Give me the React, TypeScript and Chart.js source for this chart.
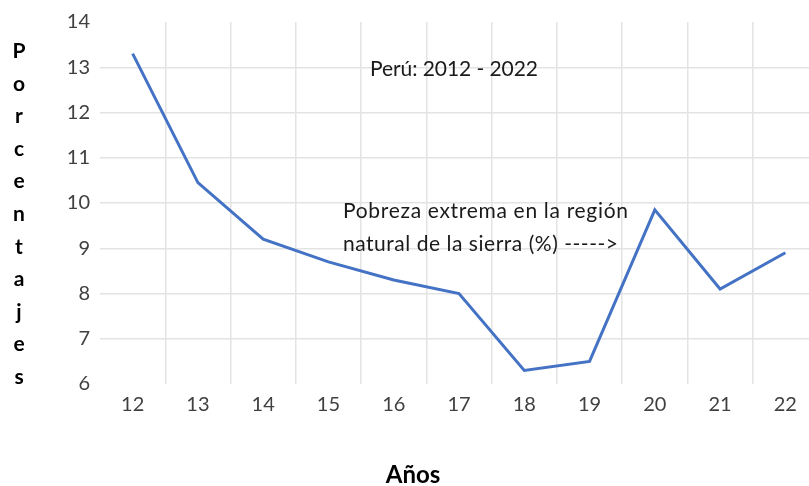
import React, { useEffect, useRef } from "react";
import { Chart, registerables } from "chart.js";

Chart.register(...registerables);

const years: string[] = ["12", "13", "14", "15", "16", "17", "18", "19", "20", "21", "22"];
const extremePovertySierra: number[] = [13.3, 10.45, 9.2, 8.7, 8.3, 8.0, 6.3, 6.5, 9.85, 8.1, 8.9];
const yTicks: number[] = [6, 7, 8, 9, 10, 11, 12, 13, 14];
const yTitleLetters: string[] = ["P", "o", "r", "c", "e", "n", "t", "a", "j", "e", "s"];
const xTitle = "Años";
const subtitle = "Perú: 2012 - 2022";
const seriesNoteLines: string[] = ["Pobreza extrema en la región", "natural de la sierra (%) ----->"];

const FONT = "Lato, 'Noto Sans', sans-serif";

function fitText(ctx: CanvasRenderingContext2D, text: string, x: number, y: number, width: number) {
  const c: any = ctx;
  c.letterSpacing = "0px";
  const w = ctx.measureText(text).width;
  const ls = (width - w) / Math.max(1, text.length - 1);
  c.letterSpacing = `${ls}px`;
  ctx.fillText(text, x, y);
  c.letterSpacing = "0px";
}

const textPlugin = {
  id: "textPlugin",
  afterDraw(chart: any) {
    const ctx = chart.ctx as CanvasRenderingContext2D;
    ctx.save();
    ctx.fillStyle = "#000000";
    ctx.font = `bold 21px ${FONT}`;
    ctx.textAlign = "center";
    ctx.textBaseline = "alphabetic";
    yTitleLetters.forEach((ch, i) => {
      ctx.fillText(ch, 19, 58 + 32.6 * i);
    });
    ctx.font = `bold 24px ${FONT}`;
    ctx.fillText(xTitle, 413, 483);
    ctx.fillStyle = "#1a1a1a";
    ctx.textAlign = "left";
    ctx.textBaseline = "middle";
    ctx.font = `21px ${FONT}`;
    fitText(ctx, subtitle, 370, 69, 168);
    fitText(ctx, seriesNoteLines[0], 343, 211, 285);
    fitText(ctx, seriesNoteLines[1], 343, 244, 275);
    ctx.restore();
  },
};

export default function App() {
  const canvasRef = useRef<HTMLCanvasElement | null>(null);

  useEffect(() => {
    if (!canvasRef.current) return;
    const chart = new Chart(canvasRef.current, {
      type: "line",
      data: {
        labels: years,
        datasets: [
          {
            label: "Pobreza extrema en la región natural de la sierra (%)",
            data: extremePovertySierra,
            borderColor: "#4472C4",
            backgroundColor: "#4472C4",
            borderWidth: 3,
            pointRadius: 0,
            tension: 0,
          },
        ],
      },
      options: {
        responsive: false,
        animation: false,
        layout: { padding: { top: 22, right: 2, left: 0, bottom: 0 } },
        plugins: {
          legend: { display: false },
          tooltip: { enabled: false },
          title: { display: false },
        },
        scales: {
          x: {
            type: "category",
            offset: true,
            grid: {
              offset: true,
              drawTicks: false,
              color: (c: any) => (c.index === 0 ? "rgba(0,0,0,0)" : "#e3e3e3"),
              lineWidth: 1.5,
            },
            border: { display: false },
            ticks: {
              color: "#404040",
              font: { family: FONT, size: 20 },
              padding: 9,
            },
            afterFit: (s: any) => {
              s.height = 486 - 384;
            },
          },
          y: {
            min: 6,
            max: 14,
            afterBuildTicks: (s: any) => {
              s.ticks = yTicks.map((v) => ({ value: v }));
            },
            grid: {
              drawTicks: false,
              color: (c: any) =>
                c.tick && (c.tick.value === 6 || c.tick.value === 14) ? "rgba(0,0,0,0)" : "#e3e3e3",
              lineWidth: 1.5,
            },
            border: { display: false },
            ticks: {
              color: "#404040",
              font: { family: FONT, size: 20 },
              padding: 10,
            },
            afterFit: (s: any) => {
              s.width = 100;
            },
          },
        },
      },
      plugins: [textPlugin],
    });
    return () => chart.destroy();
  }, []);

  return (
    <div
      style={{
        position: "fixed",
        left: 0,
        top: 0,
        width: 809,
        height: 486,
        overflow: "hidden",
        background: "#ffffff",
      }}
    >
      <canvas ref={canvasRef} width={820} height={486} style={{ display: "block" }} />
    </div>
  );
}
